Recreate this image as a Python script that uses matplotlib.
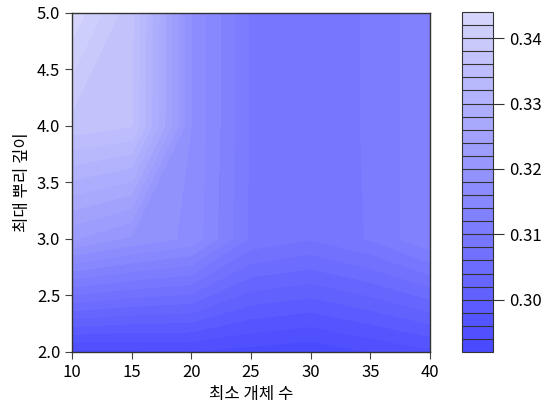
import numpy as np
import matplotlib
matplotlib.use("Agg")
import matplotlib.pyplot as plt
from matplotlib.colors import LinearSegmentedColormap

plt.rcParams['font.family'] = ['Noto Sans CJK KR', 'DejaVu Sans']

# data
min_samples = [10, 15, 20, 25, 30, 35, 40]
max_depth = [2.0, 3.0, 4.0, 5.0]
score_d2 = [0.2935, 0.2935, 0.2938, 0.2932, 0.2925, 0.2940, 0.2955]
score_d3 = [0.3222, 0.3195, 0.3175, 0.3095, 0.3081, 0.3102, 0.3138]
score_d4 = [0.3372, 0.3361, 0.3180, 0.3097, 0.3090, 0.3102, 0.3138]
score_d5 = [0.3435, 0.3365, 0.3180, 0.3097, 0.3090, 0.3102, 0.3138]
cbar_ticks = [0.30, 0.31, 0.32, 0.33, 0.34]

Z = np.array([score_d2, score_d3, score_d4, score_d5])
X, Y = np.meshgrid(min_samples, max_depth)

levels = np.linspace(0.292, 0.344, 27)
cmap = LinearSegmentedColormap.from_list('blu', ['#4848ff', '#d6d6fc'])

fig = plt.figure(figsize=(5.44, 4.08), dpi=100)
ax = fig.add_axes([72/544, 56/408, 358/544, 339/408])
cax = fig.add_axes([462/544, 56/408, 31/544, 340/408])

cs = ax.contourf(X, Y, Z, levels=levels, cmap=cmap)
ax.set_xlim(10, 40)
ax.set_ylim(2, 5)
ax.set_xticks([10, 15, 20, 25, 30, 35, 40])
ax.set_yticks([2.0, 2.5, 3.0, 3.5, 4.0, 4.5, 5.0])
ax.set_yticklabels(['2.0', '2.5', '3.0', '3.5', '4.0', '4.5', '5.0'])
ax.tick_params(labelsize=12, length=5, color='#444444', direction='out')
for s in ax.spines.values():
    s.set_color('#333333')
    s.set_linewidth(1)
ax.set_xlabel('최소 개체 수', fontsize=12)
ax.set_ylabel('최대 뿌리 깊이', fontsize=12)

cb = fig.colorbar(cs, cax=cax, drawedges=True)
cb.set_ticks(cbar_ticks)
cb.set_ticklabels(['0.30', '0.31', '0.32', '0.33', '0.34'])
cb.dividers.set_color('#333333')
cb.dividers.set_linewidth(0.8)
cb.outline.set_edgecolor('#333333')
cax.tick_params(labelsize=12, length=8, color='#333333')

fig.savefig('out.png', dpi=100)
